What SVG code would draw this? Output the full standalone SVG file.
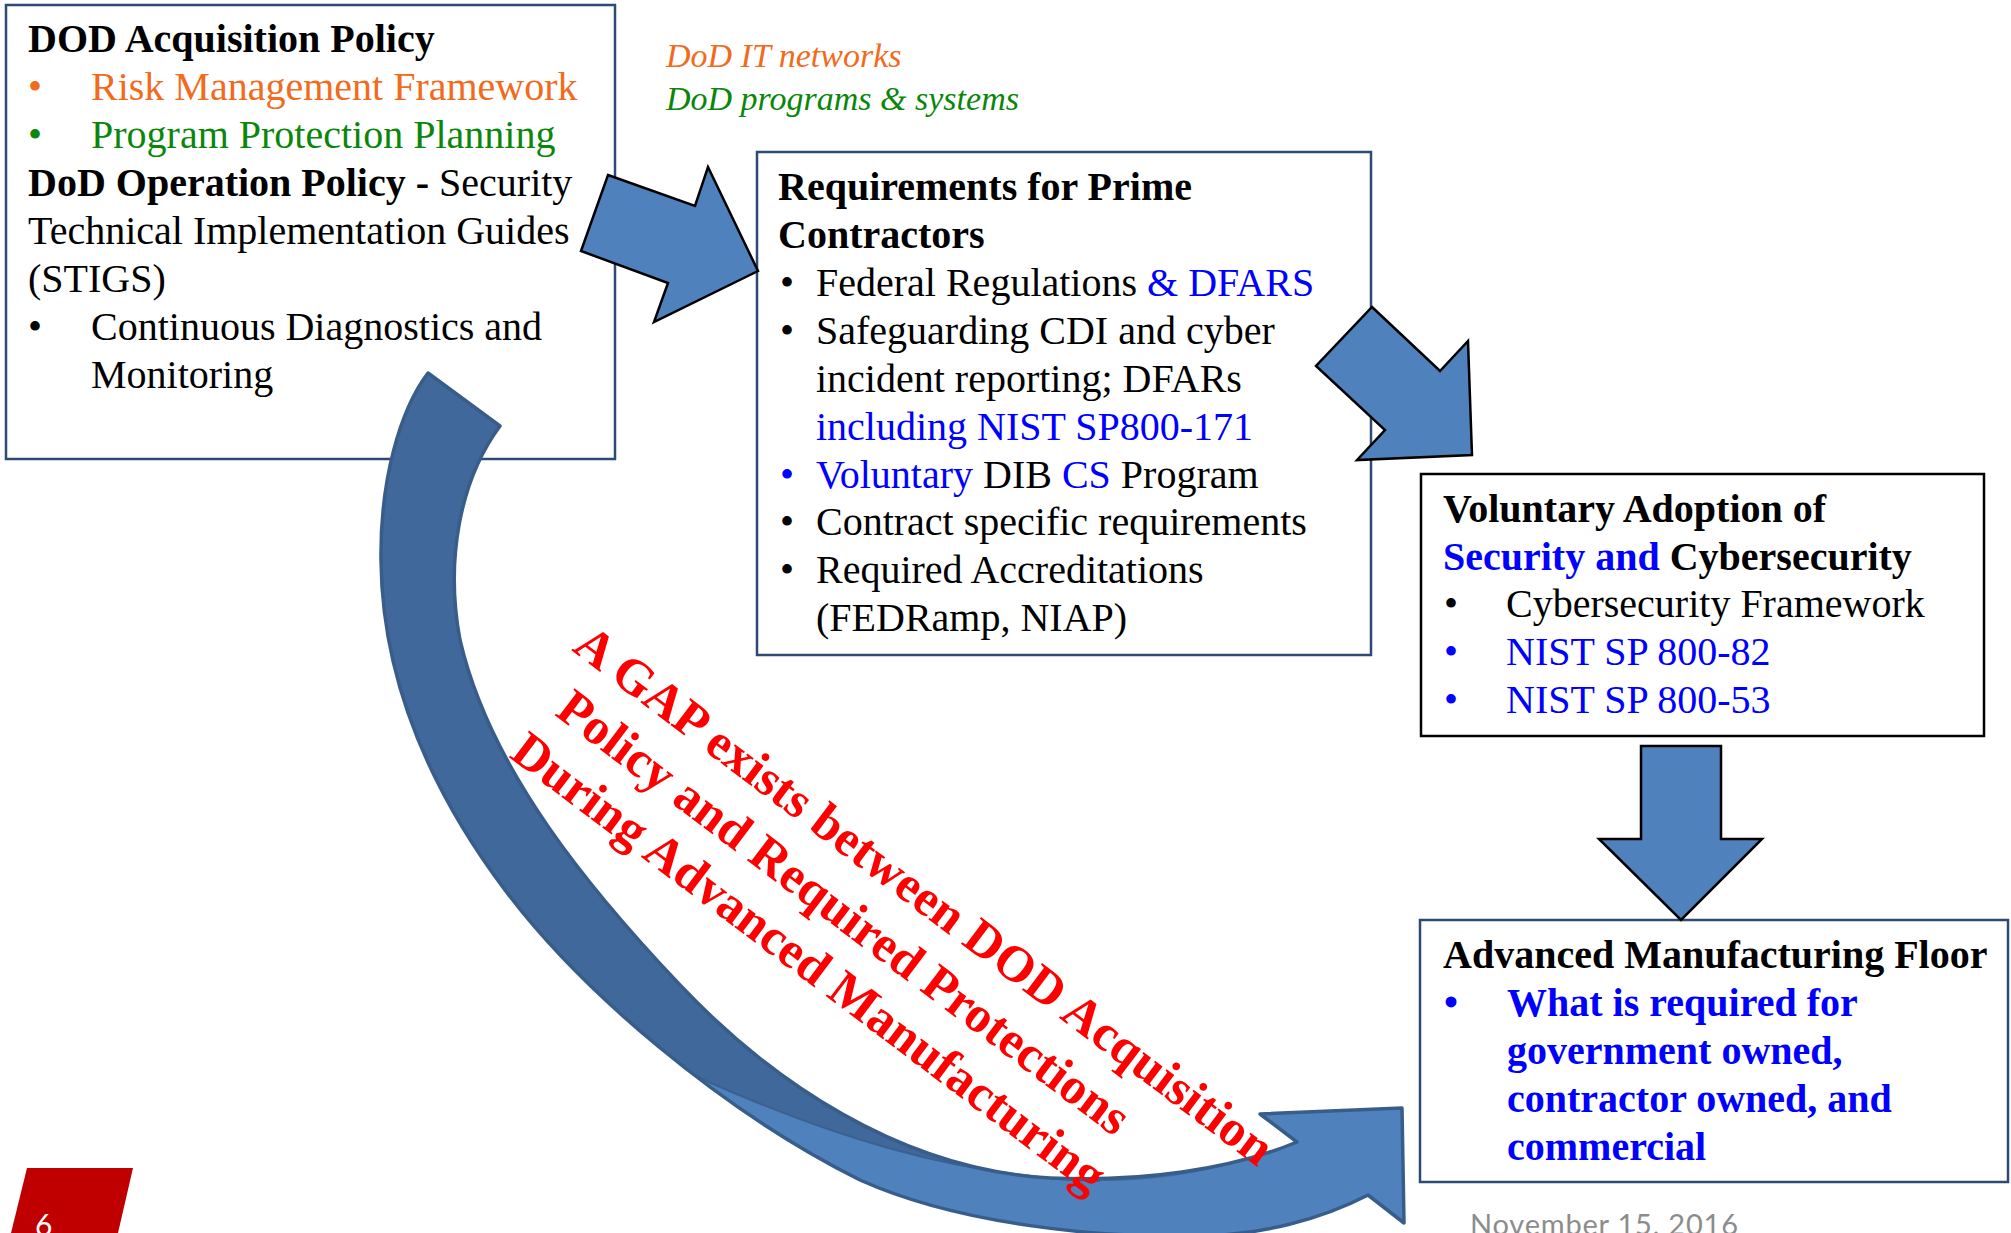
<svg xmlns="http://www.w3.org/2000/svg" width="2011" height="1233" viewBox="0 0 2011 1233">
<style>
.t{font-family:"Liberation Serif","Times New Roman",serif;font-size:40px;fill:#000}
.b{font-weight:bold}
.blue{fill:#0000ff}
.orange{fill:#f26b1d}
.green{fill:#0a870a}
.it{font-family:"Liberation Serif","Times New Roman",serif;font-size:34px;font-style:italic}
.box{fill:#fff;stroke:#2c4a74;stroke-width:2.5}
.boxk{fill:#fff;stroke:#000;stroke-width:2.5}
.blk{fill:#4f81bd;stroke:#000;stroke-width:2.5;stroke-linejoin:miter}
.gap{font-family:"Liberation Serif","Times New Roman",serif;font-size:51px;font-weight:bold;fill:#ff0000}
.foot{font-family:Lato,"Open Sans",sans-serif}
</style>
<rect width="2011" height="1233" fill="#fff"/>

<g id="node-dod-policy">
<rect x="6" y="5" width="609" height="454" class="box"/>
<text class="t b" x="28" y="52">DOD Acquisition Policy</text>
<text class="t orange" y="100"><tspan x="28">•</tspan><tspan x="91">Risk Management Framework</tspan></text>
<text class="t green" y="148"><tspan x="28">•</tspan><tspan x="91">Program Protection Planning</tspan></text>
<text class="t" x="28" y="196"><tspan class="b">DoD Operation Policy -</tspan> Security</text>
<text class="t" x="28" y="244">Technical Implementation Guides</text>
<text class="t" x="28" y="292">(STIGS)</text>
<text class="t" y="340"><tspan x="28">•</tspan><tspan x="91">Continuous Diagnostics and</tspan></text>
<text class="t" x="91" y="388">Monitoring</text>
</g>

<g id="node-legend">
<text class="it orange" x="666" y="67">DoD IT networks</text>
<text class="it green" x="666" y="110">DoD programs &amp; systems</text>
</g>

<g id="node-prime">
<rect x="757" y="152" width="614" height="503" class="box"/>
<text class="t b" x="778" y="200">Requirements for Prime</text>
<text class="t b" x="778" y="248">Contractors</text>
<text class="t" y="296"><tspan x="780">•</tspan><tspan x="816">Federal Regulations </tspan><tspan class="blue">&amp; DFARS</tspan></text>
<text class="t" y="344"><tspan x="780">•</tspan><tspan x="816">Safeguarding CDI and cyber</tspan></text>
<text class="t" x="816" y="392">incident reporting; DFARs</text>
<text class="t blue" x="816" y="440">including NIST SP800-171</text>
<text class="t" y="488"><tspan x="780" class="blue">•</tspan><tspan x="816" class="blue">Voluntary</tspan> DIB <tspan class="blue">CS</tspan> Program</text>
<text class="t" y="535"><tspan x="780">•</tspan><tspan x="816">Contract specific requirements</tspan></text>
<text class="t" y="583"><tspan x="780">•</tspan><tspan x="816">Required Accreditations</tspan></text>
<text class="t" x="816" y="631">(FEDRamp, NIAP)</text>
</g>

<g id="node-voluntary">
<rect x="1421" y="474" width="563" height="262" class="boxk"/>
<text class="t b" x="1443" y="522">Voluntary Adoption of</text>
<text class="t b" x="1443" y="570"><tspan class="blue">Security and</tspan> Cybersecurity</text>
<text class="t" y="617"><tspan x="1444">•</tspan><tspan x="1506">Cybersecurity Framework</tspan></text>
<text class="t blue" y="665"><tspan x="1444">•</tspan><tspan x="1506">NIST SP 800-82</tspan></text>
<text class="t blue" y="713"><tspan x="1444">•</tspan><tspan x="1506">NIST SP 800-53</tspan></text>
</g>

<g id="node-floor">
<rect x="1420" y="920" width="588" height="262" class="box"/>
<text class="t b" x="1443" y="968">Advanced Manufacturing Floor</text>
<text class="t b blue" y="1016"><tspan x="1444">•</tspan><tspan x="1507">What is required for</tspan></text>
<text class="t b blue" x="1507" y="1064">government owned,</text>
<text class="t b blue" x="1507" y="1112">contractor owned, and</text>
<text class="t b blue" x="1507" y="1160">commercial</text>
</g>

<g id="connectors">
<polygon class="blk" points="608,175 695,206 708,167 758,271 654,322 668,283 581,251"/>
<polygon class="blk" points="1372,307 1440,371 1468,341 1472,455 1357,460 1385,430 1316,366"/>
<polygon class="blk" points="1641,746 1721,746 1721,839 1762,839 1681,920 1599,839 1641,839"/>
<g id="gap-arrow">
<path fill="#41689a" d="M428,373 C400,410 380,480 381,560 C382,680 430,790 505,890 C580,990 720,1110 860,1180 C960,1225 1100,1238 1200,1236 C1260,1235 1320,1220 1368,1195 L1404,1223 L1402,1108 L1260,1114 L1297,1142 C1230,1170 1140,1182 1050,1178 C900,1170 770,1080 680,985 C590,890 490,770 460,640 C445,560 460,480 500,426 Z"/>
<path fill="#4f81bd" d="M696.2,1076.5 C748,1116 804,1152 860,1180 C960,1225 1100,1238 1200,1236 C1260,1235 1320,1220 1368,1195 L1404,1223 L1402,1108 L1260,1114 L1297,1142 C1230,1170 1160,1181 1100,1181 C950,1177 820,1132 696.2,1076.5 Z"/>
<path fill="none" stroke="#3a6191" stroke-width="2" d="M1100,1181 C950,1177 820,1132 696.2,1076.5"/>
<path fill="none" stroke="#385d8a" stroke-width="3.5" stroke-linejoin="round" d="M428,373 C400,410 380,480 381,560 C382,680 430,790 505,890 C580,990 720,1110 860,1180 C960,1225 1100,1238 1200,1236 C1260,1235 1320,1220 1368,1195 L1404,1223 L1402,1108 L1260,1114 L1297,1142 C1230,1170 1140,1182 1050,1178 C900,1170 770,1080 680,985 C590,890 490,770 460,640 C445,560 460,480 500,426 Z"/>
</g>
</g>

<g id="gap-label" transform="translate(571,650) rotate(37)">
<text class="gap" x="0" y="0">A GAP exists between DOD Acquisition</text>
<text class="gap" x="25" y="62">Policy and Required Protections</text>
<text class="gap" x="14" y="123">During Advanced Manufacturing</text>
</g>

<g id="footer">
<polygon points="27,1168 133,1168 118,1233 11,1233" fill="#c00000"/>
<text class="foot" x="35" y="1236" font-size="30" fill="#fff">6</text>
<text class="foot" x="1470" y="1235" font-size="29" fill="#8c8c8c" textLength="268" lengthAdjust="spacing">November 15, 2016</text>
</g>
</svg>
